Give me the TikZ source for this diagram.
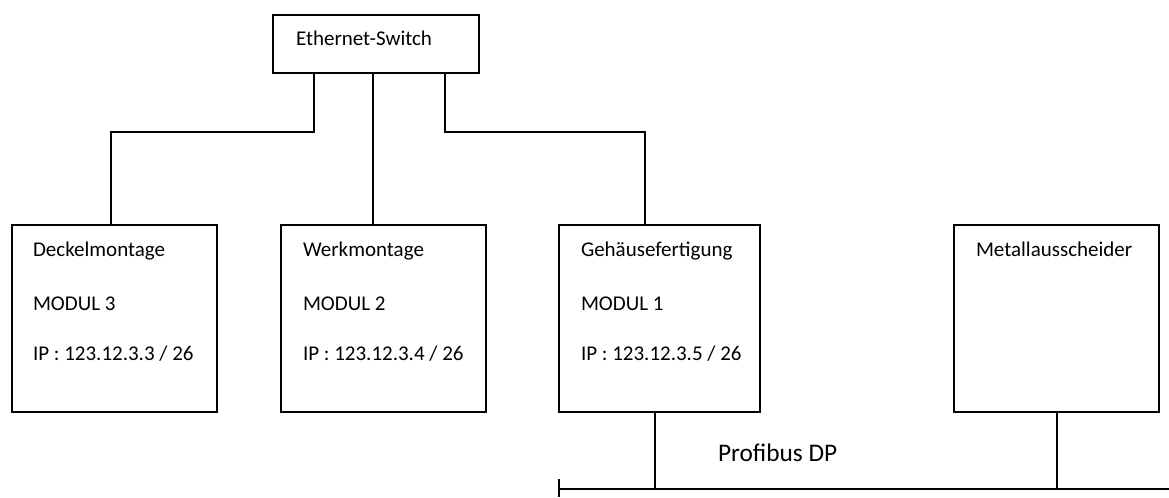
\documentclass[tikz,border=0pt]{standalone}
\usepackage{fontspec}
\setmainfont{Carlito}
\usetikzlibrary{fit}
\begin{document}
\begin{tikzpicture}[x=0.75pt,y=-0.75pt,
  line width=1.5pt, line join=miter,
  box/.style={draw, line width=1.5pt, inner sep=0pt, fit={#1}},
  txt/.style={anchor=base west, inner sep=0pt, font=\fontsize{15.75pt}{18pt}\selectfont},
  bigtxt/.style={anchor=base west, inner sep=0pt, font=\fontsize{19pt}{22pt}\selectfont}]
\useasboundingbox (0,0) rectangle (1169,497);
% boxes
\node[box={(273,15) (479,73)}] (sw) {};
\node[box={(12,225) (217,412)}] (m3) {};
\node[box={(281,225) (486,412)}] (m2) {};
\node[box={(559,225) (760,412)}] (m1) {};
\node[box={(954,225) (1159,412)}] (ma) {};
% texts
\node[txt] (tsw) at (295,45) {Ethernet-Switch};
\node[txt] (t3a) at (32,256) {Deckelmontage};
\node[txt] (t3b) at (32,310) {MODUL 3};
\node[txt] (t3c) at (32,360) {IP : 123.12.3.3 / 26};
\node[txt] (t2a) at (302,256) {Werkmontage};
\node[txt] (t2b) at (302,310) {MODUL 2};
\node[txt] (t2c) at (302,360) {IP : 123.12.3.4 / 26};
\node[txt] (t1a) at (580,256) {Gehäusefertigung};
\node[txt] (t1b) at (580,310) {MODUL 1};
\node[txt] (t1c) at (580,360) {IP : 123.12.3.5 / 26};
\node[txt] (taa) at (975,256) {Metallausscheider};
\node[bigtxt] (tpb) at (717,461) {Profibus DP};
% ethernet connectors
\coordinate (p1) at (314,73);
\coordinate (p2) at (373,73);
\coordinate (p3) at (445,73);
\coordinate (k1) at (111,132);
\coordinate (k3) at (645,132);
\draw (p1) |- (k1) -- (k1 |- m3.north);
\draw (p2) -- (p2 |- m2.north);
\draw (p3) |- (k3) -- (k3 |- m1.north);
% profibus
\coordinate (b0) at (559,489);
\coordinate (b1) at (1169,489);
\coordinate (bt) at (559,479);
\coordinate (bb) at (559,497);
\coordinate (d1) at (655,489);
\coordinate (d2) at (1057,489);
\draw (b0) -- (b1);
\draw (bt) -- (bb);
\draw (d1 |- m1.south) -- (d1);
\draw (d2 |- ma.south) -- (d2);
\end{tikzpicture}
\end{document}
